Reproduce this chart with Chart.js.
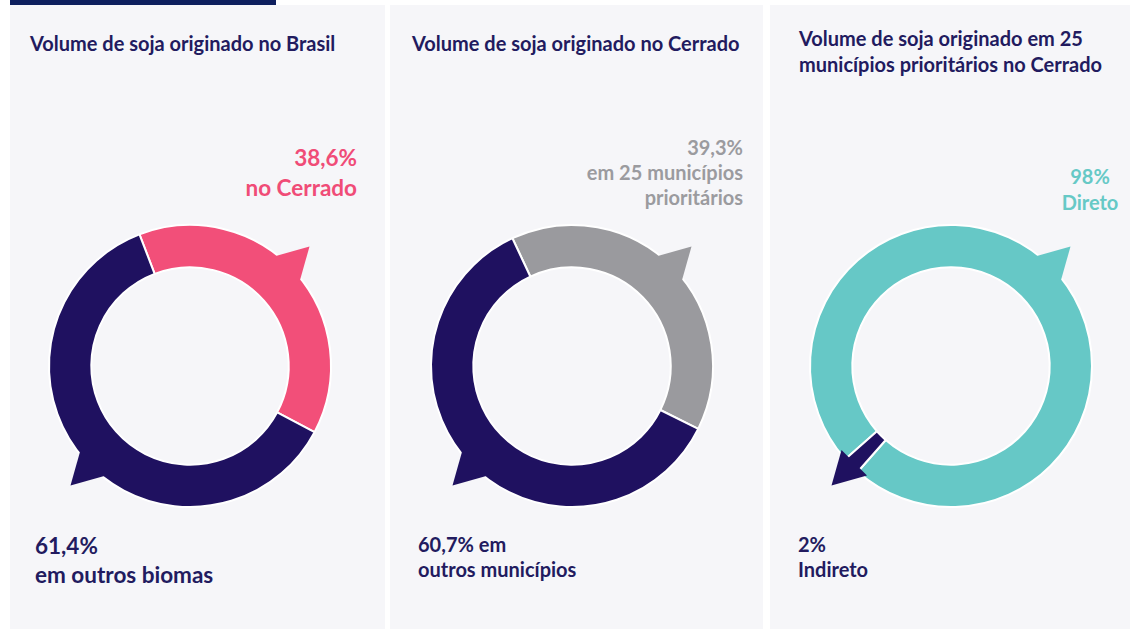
<!DOCTYPE html>
<html>
<head>
<meta charset="utf-8">
<script src="https://cdn.jsdelivr.net/npm/chart.js@4/dist/chart.umd.min.js"></script>
<style>
  html, body { margin: 0; padding: 0; background: #ffffff; width: 1130px; height: 631px; overflow: hidden; font-family: Lato, "Open Sans", sans-serif; }
  .topbar { position: absolute; left: 10px; top: 0; width: 266px; height: 6px; background: #0e1f5e; }
  .panel { position: absolute; top: 5px; height: 624px; background: #f6f6f9; }
  .title { position: absolute; color: #221b5f; font-weight: 700; font-size: 20px; line-height: 26px; white-space: nowrap; }
  .lbl { position: absolute; font-weight: 700; white-space: nowrap; }
  canvas { position: absolute; }
</style>
</head>
<body>
<div class="topbar"></div>
<div class="panel" style="left:10px;width:375px"></div>
<div class="panel" style="left:390px;width:373px"></div>
<div class="panel" style="left:770px;width:360px"></div>

<div class="title" style="left:30px;top:30px">Volume de soja originado no Brasil</div>
<div class="title" style="left:412px;top:30px">Volume de soja originado no Cerrado</div>
<div class="title" style="left:799px;top:25px">Volume de soja originado em 25<br>municípios prioritários no Cerrado</div>

<div class="lbl" style="right:773px;top:143px;text-align:right;color:#f04c77;font-size:22.5px;line-height:30px">38,6%<br>no Cerrado</div>
<div class="lbl" style="left:35px;top:531px;color:#221b5f;font-size:22.5px;line-height:29px">61,4%<br>em outros biomas</div>

<div class="lbl" style="right:387px;top:135px;text-align:right;color:#9b9b9f;font-size:20px;line-height:25px">39,3%<br>em 25 municípios<br>prioritários</div>
<div class="lbl" style="left:418px;top:532px;color:#221b5f;font-size:20px;line-height:25px">60,7% em<br>outros municípios</div>

<div class="lbl" style="left:1050px;width:80px;top:163px;text-align:center;color:#66c9c6;font-size:20px;line-height:26px">98%<br>Direto</div>
<div class="lbl" style="left:798px;top:532px;color:#221b5f;font-size:20px;line-height:25px">2%<br>Indireto</div>

<canvas id="c1"></canvas>
<canvas id="c2"></canvas>
<canvas id="c3"></canvas>

<script>
// values
const brasilLabels = ['No Cerrado', 'Em outros biomas'];
const brasilValues = [38.6, 61.4];

const cerradoLabels = ['Em 25 municípios prioritários', 'Em outros municípios'];
const cerradoValues = [39.3, 60.7];

const municipiosLabels = ['Direto', 'Indireto'];
const municipiosValues = [98, 2];

const NAVY = '#1f1160';
const PINK = '#f24f79';
const GRAY = '#9a9a9e';
const TEAL = '#66c8c6';

// speech-bubble tails drawn on the outer edge of each slice
const tailPlugin = {
  id: 'tails',
  afterDatasetsDraw(chart, args, opts) {
    const ctx = chart.ctx;
    const arcs = chart.getDatasetMeta(0).data;
    const colors = chart.data.datasets[0].backgroundColor;
    (opts.tails || []).forEach(t => {
      const arc = arcs[t.index];
      if (!arc) return;
      const r = arc.outerRadius;
      const a = t.angle * Math.PI / 180;
      const half = 7.5 * Math.PI / 180;
      ctx.save();
      ctx.fillStyle = colors[t.index];
      ctx.beginPath();
      ctx.moveTo(arc.x + Math.cos(a - half) * (r - 3), arc.y + Math.sin(a - half) * (r - 3));
      ctx.lineTo(arc.x + Math.cos(a) * (r + 28), arc.y + Math.sin(a) * (r + 28));
      ctx.lineTo(arc.x + Math.cos(a + half) * (r - 3), arc.y + Math.sin(a + half) * (r - 3));
      ctx.closePath();
      ctx.fill();
      ctx.restore();
    });
  }
};

function makeDonut(id, cx, cy, labels, values, colors, rotation, tails) {
  const size = 360;
  const el = document.getElementById(id);
  el.style.left = (cx - size / 2) + 'px';
  el.style.top = (cy - size / 2) + 'px';
  el.style.width = size + 'px';
  el.style.height = size + 'px';
  el.width = size;
  el.height = size;
  return new Chart(el.getContext('2d'), {
    type: 'doughnut',
    data: {
      labels: labels,
      datasets: [{
        data: values,
        backgroundColor: colors,
        borderColor: '#ffffff',
        borderWidth: 2
      }]
    },
    options: {
      responsive: false,
      animation: false,
      rotation: rotation,
      cutout: '70%',
      layout: { padding: 38 },
      events: [],
      plugins: {
        legend: { display: false },
        tooltip: { enabled: false },
        tails: { tails: tails }
      }
    },
    plugins: [tailPlugin]
  });
}

makeDonut('c1', 190, 366, brasilLabels, brasilValues, [PINK, NAVY], -21,
  [{ index: 0, angle: -45 }, { index: 1, angle: 135 }]);
makeDonut('c2', 572, 366, cerradoLabels, cerradoValues, [GRAY, NAVY], -25,
  [{ index: 0, angle: -45 }, { index: 1, angle: 135 }]);
makeDonut('c3', 951, 366, municipiosLabels, municipiosValues, [TEAL, NAVY], -131.4,
  [{ index: 0, angle: -45 }, { index: 1, angle: 135 }]);
</script>
</body>
</html>
